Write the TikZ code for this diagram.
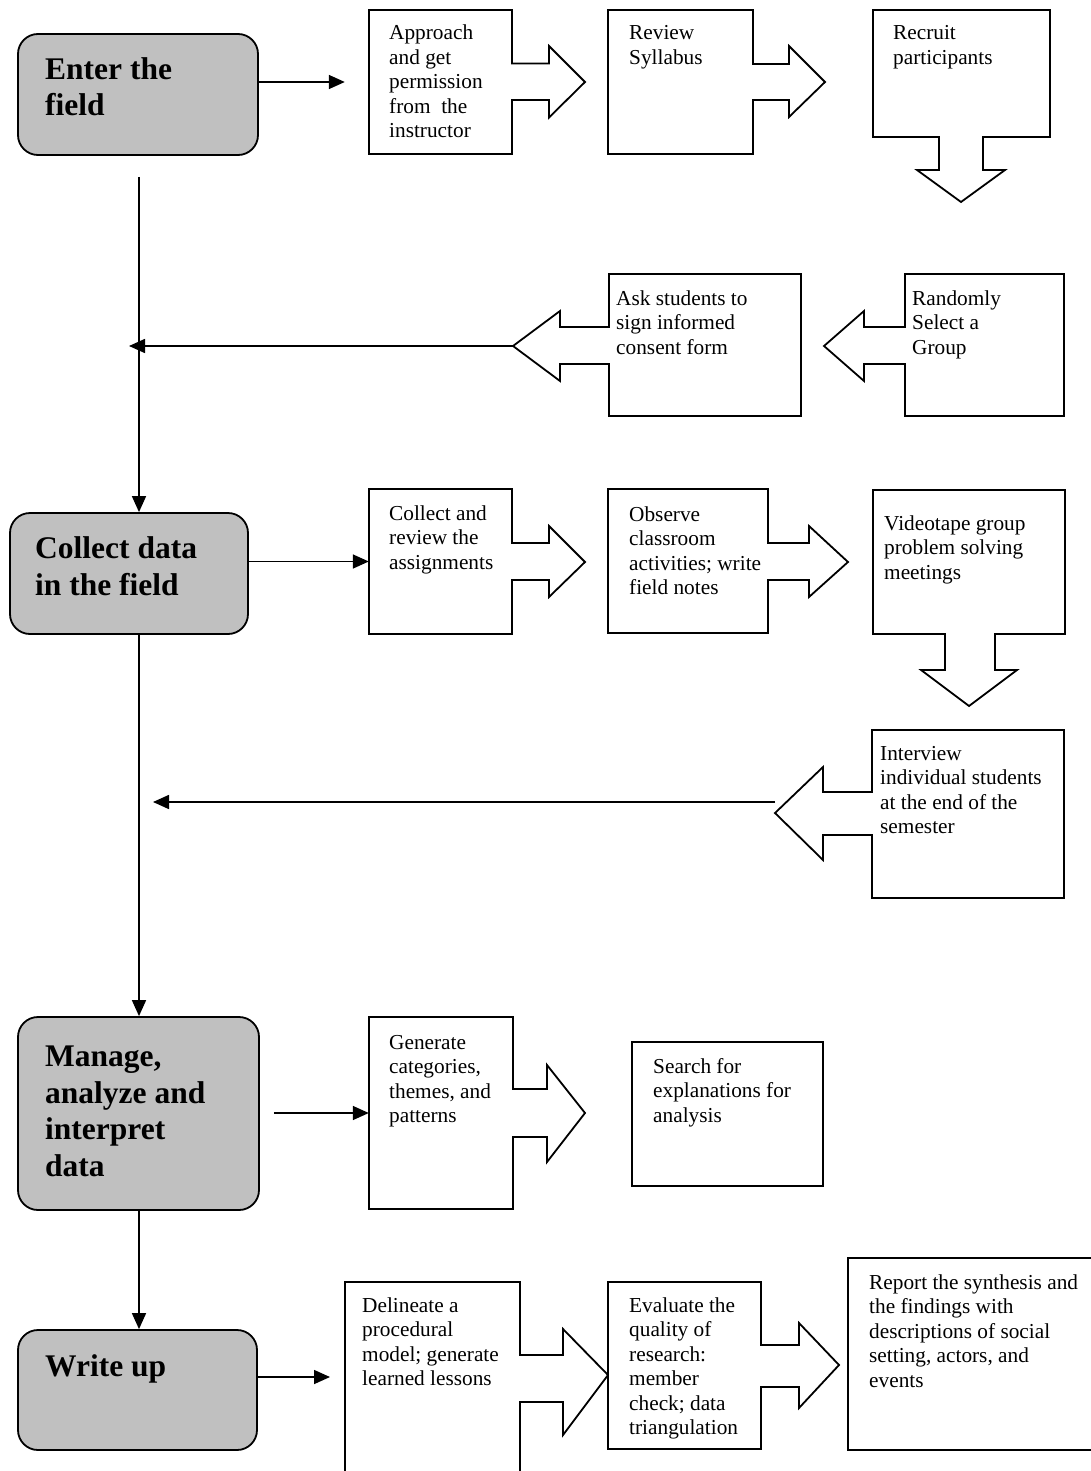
\documentclass[tikz,border=0pt]{standalone}
\usepackage{fontspec}
\setmainfont{Liberation Serif}
\usetikzlibrary{arrows.meta}
\newcommand{\stxt}[1]{{\fontsize{21.3pt}{24.5pt}\selectfont\begin{tabular}[t]{@{}l@{}}#1\end{tabular}}}
\newcommand{\btxt}[1]{{\fontsize{31.5pt}{36.5pt}\selectfont\bfseries\begin{tabular}[t]{@{}l@{}}#1\end{tabular}}}
\definecolor{stagegray}{RGB}{192,192,192}
\tikzset{
  stage/.style={draw=black, line width=1.8pt, fill=stagegray, rounded corners=20pt, inner sep=0pt},
  callout/.style={draw=black, line width=1.8pt, fill=white, line join=miter},
  boxn/.style={draw=none, inner sep=0pt},
  conn/.style={line width=1.6pt, -{Triangle[length=16pt,width=14pt]}},
  txt/.style={anchor=base west, inner sep=0pt}
}
\begin{document}
\begin{tikzpicture}[x=1pt,y=-1pt]
\path[use as bounding box, fill=white] (0,0) rectangle (1091,1471);
\clip (0,0) rectangle (1091,1471);

% ---------- stage boxes ----------
\node[stage, minimum width=240pt, minimum height=121pt] (enter) at (138,94.5) {};
\node[stage, minimum width=238pt, minimum height=121pt] (collect) at (129,573.5) {};
\node[stage, minimum width=241pt, minimum height=193pt] (manage) at (138.5,1113.5) {};
\node[stage, minimum width=239pt, minimum height=120pt] (writeup) at (137.5,1390) {};

\node[txt] (tenter) at (45,79.5) {\btxt{Enter the\\field}};
\node[txt] (tcollect) at (35,558.5) {\btxt{Collect data\\in the field}};
\node[txt] (tmanage) at (45,1066.5) {\btxt{Manage,\\analyze and\\interpret\\data}};
\node[txt] (twrite) at (45,1376.5) {\btxt{Write up}};

% ---------- callout boxes (outlines) ----------
% Approach (right arrow)
\draw[callout] (369,10) -- (512,10) -- (512,63.5) -- (549,63.5) -- (549,46) -- (585,82) -- (549,117.5) -- (549,100) -- (512,100) -- (512,154) -- (369,154) -- cycle;
\node[boxn, minimum width=143pt, minimum height=144pt] (approach) at (440.5,82) {};
% Review (right arrow)
\draw[callout] (608,10) -- (753,10) -- (753,64) -- (789,64) -- (789,46) -- (825,82) -- (789,117) -- (789,100) -- (753,100) -- (753,154) -- (608,154) -- cycle;
\node[boxn, minimum width=145pt, minimum height=144pt] (review) at (680.5,82) {};
% Recruit (down arrow)
\draw[callout] (873,10) -- (1050,10) -- (1050,137) -- (983,137) -- (983,170) -- (1005,170) -- (961,202) -- (917,170) -- (939,170) -- (939,137) -- (873,137) -- cycle;
\node[boxn, minimum width=177pt, minimum height=127pt] (recruit) at (961.5,73.5) {};
% Ask (left arrow)
\draw[callout] (609,274) -- (801,274) -- (801,416) -- (609,416) -- (609,364) -- (560,364) -- (560,381) -- (513,346) -- (560,311) -- (560,327) -- (609,327) -- cycle;
\node[boxn, minimum width=192pt, minimum height=142pt] (ask) at (705,345) {};
% Randomly (left arrow)
\draw[callout] (905,274) -- (1064,274) -- (1064,416) -- (905,416) -- (905,364) -- (864,364) -- (864,381) -- (824,346) -- (864,311) -- (864,327) -- (905,327) -- cycle;
\node[boxn, minimum width=159pt, minimum height=142pt] (randomly) at (984.5,345) {};
% Collect and review (right arrow)
\draw[callout] (369,489) -- (512,489) -- (512,543) -- (549,543) -- (549,526) -- (585,562) -- (549,597) -- (549,580) -- (512,580) -- (512,634) -- (369,634) -- cycle;
\node[boxn, minimum width=143pt, minimum height=145pt] (colrev) at (440.5,561.5) {};
% Observe (right arrow)
\draw[callout] (608,489) -- (768,489) -- (768,543) -- (809,543) -- (809,526) -- (848,562) -- (809,597) -- (809,580) -- (768,580) -- (768,633) -- (608,633) -- cycle;
\node[boxn, minimum width=160pt, minimum height=144pt] (observe) at (688,561) {};
% Videotape (down arrow)
\draw[callout] (873,490) -- (1065,490) -- (1065,634) -- (995,634) -- (995,670) -- (1017,670) -- (969,706) -- (921,670) -- (945,670) -- (945,634) -- (873,634) -- cycle;
\node[boxn, minimum width=192pt, minimum height=144pt] (videotape) at (969,562) {};
% Interview (left arrow)
\draw[callout] (872,730) -- (1064,730) -- (1064,898) -- (872,898) -- (872,835) -- (823,835) -- (823,860) -- (775,813) -- (823,767) -- (823,792) -- (872,792) -- cycle;
\node[boxn, minimum width=192pt, minimum height=168pt] (interview) at (968,814) {};
% Generate (right arrow)
\draw[callout] (369,1017) -- (513,1017) -- (513,1089) -- (547,1089) -- (547,1065) -- (585,1113) -- (547,1162) -- (547,1137) -- (513,1137) -- (513,1209) -- (369,1209) -- cycle;
\node[boxn, minimum width=144pt, minimum height=192pt] (generate) at (441,1113) {};
% Search (plain)
\node[draw=black, line width=1.8pt, fill=white, inner sep=0pt, minimum width=191pt, minimum height=144pt] (search) at (727.5,1114) {};
% Delineate (right arrow, runs off the page)
\draw[callout] (345,1282) -- (520,1282) -- (520,1355) -- (563,1355) -- (563,1329) -- (608,1375) -- (563,1435) -- (563,1402) -- (520,1402) -- (520,1490) -- (345,1490) -- cycle;
\node[boxn, minimum width=175pt, minimum height=208pt] (delineate) at (432.5,1386) {};
% Evaluate (right arrow)
\draw[callout] (608,1282) -- (761,1282) -- (761,1345) -- (799,1345) -- (799,1323) -- (839,1365) -- (799,1408) -- (799,1387) -- (761,1387) -- (761,1449) -- (608,1449) -- cycle;
\node[boxn, minimum width=153pt, minimum height=167pt] (evaluate) at (684.5,1365.5) {};
% Report (plain, runs off the page)
\node[draw=black, line width=1.8pt, fill=white, inner sep=0pt, minimum width=252pt, minimum height=192pt] (report) at (974,1354) {};

% ---------- texts ----------
\node[txt] (tapproach) at (389,40) {\stxt{Approach\\and get\\permission\\from~ the\\instructor}};
\node[txt] (treview) at (629,40) {\stxt{Review\\Syllabus}};
\node[txt] (trecruit) at (893,40) {\stxt{Recruit\\participants}};
\node[txt] (task) at (616,305) {\stxt{Ask students to\\sign informed\\consent form}};
\node[txt] (trandom) at (912,305) {\stxt{Randomly\\Select a\\Group}};
\node[txt] (tcolrev) at (389,520) {\stxt{Collect and\\review the\\assignments}};
\node[txt] (tobserve) at (629,521) {\stxt{Observe\\classroom\\activities; write\\field notes}};
\node[txt] (tvideo) at (884,530) {\stxt{Videotape group\\problem solving\\meetings}};
\node[txt] (tinterview) at (880,760) {\stxt{Interview\\individual students\\at the end of the\\semester}};
\node[txt] (tgenerate) at (389,1049) {\stxt{Generate\\categories,\\themes, and\\patterns}};
\node[txt] (tsearch) at (653,1073) {\stxt{Search for\\explanations for\\analysis}};
\node[txt] (tdelineate) at (362,1312) {\stxt{Delineate a\\procedural\\model; generate\\learned lessons}};
\node[txt] (tevaluate) at (629,1312) {\stxt{Evaluate the\\quality of\\research:\\member\\check; data\\triangulation}};
\node[txt] (treport) at (869,1289) {\stxt{Report the synthesis and\\the findings with\\descriptions of social\\setting, actors, and\\events}};

% ---------- connectors ----------
\coordinate (vstart) at (139,177);
\coordinate (asktip) at (513,346);
\coordinate (askend) at (129,346);
\coordinate (ivtip) at (775,802);
\coordinate (ivend) at (153,802);
\coordinate (wuend) at (330,1377);

\draw[conn] (enter.east |- approach.west) -- ([xshift=-24pt]approach.west);
\draw[conn] (collect.east |- colrev.west) -- (colrev.west);
\draw[conn] ([xshift=14pt]manage.east |- generate.west) -- (generate.west);
\draw[conn] (writeup.east |- wuend) -- (wuend);

\draw[conn] (vstart) -- (vstart |- collect.north);
\draw[conn] (vstart |- collect.south) -- (vstart |- manage.north);
\draw[conn] (vstart |- manage.south) -- (vstart |- writeup.north);

\draw[conn] (asktip) -- (askend);
\draw[conn] (ivtip) -- (ivend);
\end{tikzpicture}
\end{document}
